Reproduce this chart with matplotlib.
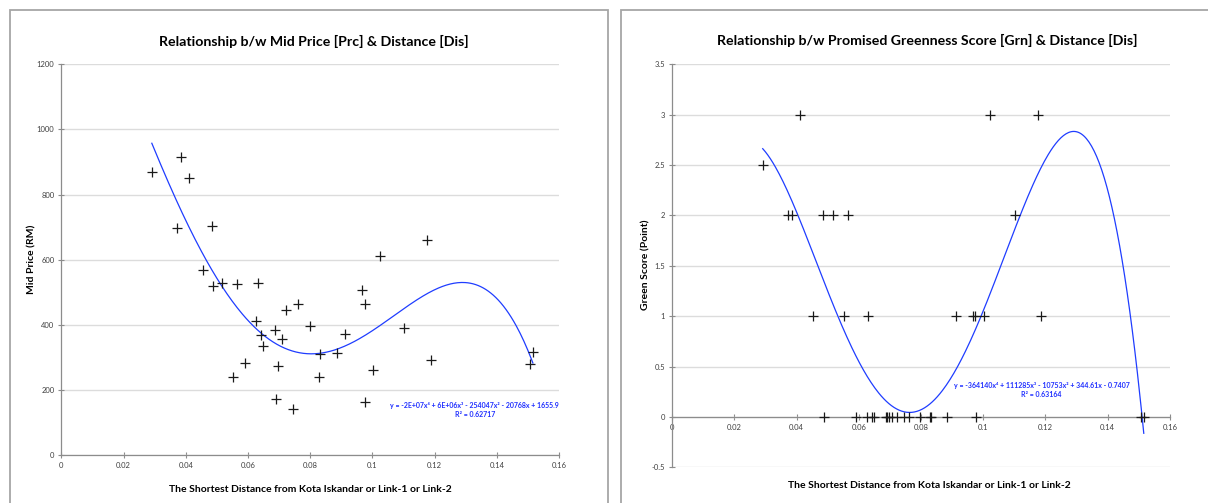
import numpy as np
import matplotlib
matplotlib.use("Agg")
import matplotlib.pyplot as plt
from matplotlib.patches import Rectangle

plt.rcParams['font.family'] = ['Lato', 'DejaVu Sans']

# shortest distance (same for both charts)
distance = [0.0291, 0.0371, 0.0386, 0.0410, 0.0454, 0.0486, 0.0488, 0.0516,
            0.0553, 0.0564, 0.0590, 0.0627, 0.0631, 0.0642, 0.0648, 0.0686,
            0.0689, 0.0698, 0.0708, 0.0723, 0.0744, 0.0762, 0.0798, 0.0830,
            0.0833, 0.0885, 0.0913, 0.0968, 0.0975, 0.0976, 0.1002, 0.1023,
            0.1101, 0.1176, 0.1187, 0.1508, 0.1516]

# mid price (RM)
mid_price = [870, 696, 914, 850, 567, 702, 518, 527,
             239, 524, 283, 412, 527, 368, 336, 383,
             173, 273, 355, 444, 141, 463, 395, 240,
             311, 312, 373, 507, 464, 162, 262, 610,
             389, 659, 291, 279, 315]

# promised greenness score
green_score = [2.5, 2, 2, 3, 1, 2, 0, 2,
               1, 2, 0, 0, 1, 0, 0, 0,
               0, 0, 0, 0, 0, 0, 0, 0,
               0, 0, 1, 1, 1, 0, 1, 3,
               2, 3, 1, 0, 0]

x_ticks = [0, 0.02, 0.04, 0.06, 0.08, 0.1, 0.12, 0.14, 0.16]
x_tick_labels = ["0", "0.02", "0.04", "0.06", "0.08", "0.1", "0.12", "0.14", "0.16"]
price_ticks = [0, 200, 400, 600, 800, 1000, 1200]
green_ticks = [-0.5, 0, 0.5, 1, 1.5, 2, 2.5, 3, 3.5]
green_tick_labels = ["-0.5", "0", "0.5", "1", "1.5", "2", "2.5", "3", "3.5"]

xlabel = "The Shortest Distance from Kota Iskandar or Link-1 or Link-2"
eq_price = "y = -2E+07x\u2074 + 6E+06x\u00b3 - 254047x\u00b2 - 20768x + 1655.9"
r2_price = "R\u00b2 = 0.62717"
eq_green = "y = -364140x\u2074 + 111285x\u00b3 - 10753x\u00b2 + 344.61x - 0.7407"
r2_green = "R\u00b2 = 0.63164"

W, H = 1208, 503
fig = plt.figure(figsize=(W / 100, H / 100), dpi=100)

# chart frames
for x0, x1 in [(10, 608), (621, 1230)]:
    fig.patches.append(Rectangle((x0 / W, -0.1), (x1 - x0) / W, 1.1 - 10 / H,
                                 transform=fig.transFigure, fill=False,
                                 edgecolor='#a6a6a6', lw=1.3, zorder=0))

axis_gray = '#8c8c8c'
grid_gray = '#dcdcdc'
line_blue = '#1f3dff'
eq_blue = '#2030ff'


def style_axes(ax):
    for s in ['top', 'right']:
        ax.spines[s].set_visible(False)
    for s in ['left', 'bottom']:
        ax.spines[s].set_color(axis_gray)
        ax.spines[s].set_linewidth(0.9)
    ax.yaxis.grid(True, color=grid_gray, lw=1.0)
    ax.set_axisbelow(True)
    ax.tick_params(axis='both', direction='inout', length=4, width=0.8,
                   color=axis_gray, labelsize=5.5, labelcolor='#404040', pad=3)


def trend(ax, x, y):
    coef = np.polyfit(x, y, 4)
    xs = np.linspace(min(x), max(x), 300)
    ax.plot(xs, np.polyval(coef, xs), color=line_blue, lw=0.9, zorder=2)


# left chart: mid price
ax1 = fig.add_axes([61.3 / W, 48 / H, (559 - 61.3) / W, (455 - 64.3) / H])
style_axes(ax1)
ax1.plot(distance, mid_price, '+', color='#1a1a1a', ms=7, mew=0.9, zorder=3)
trend(ax1, distance, mid_price)
ax1.set_xlim(0, 0.16)
ax1.set_ylim(0, 1200)
ax1.set_xticks(x_ticks)
ax1.set_xticklabels(x_tick_labels)
ax1.set_yticks(price_ticks)
ax1.set_ylabel("Mid Price (RM)", fontsize=7.5, fontweight='bold')
ax1.yaxis.set_label_coords(-24.5 / 497.7, 0.5)
ax1.set_xlabel(xlabel, fontsize=7.5, fontweight='bold', va='center')
ax1.xaxis.set_label_coords(0.5, -35 / 390.7)
ax1.text(0.1329, 151, eq_price, color=eq_blue,
         fontsize=5, fontweight='bold', ha='center', va='center')
ax1.text(0.1329, 124, r2_price, color=eq_blue,
         fontsize=5, fontweight='bold', ha='center', va='center')
fig.text(314 / W, 1 - 41 / H, "Relationship b/w Mid Price [Prc] & Distance [Dis]",
         fontsize=10.2, fontweight='bold', ha='center', va='center')

# right chart: green score
ax2 = fig.add_axes([672.2 / W, 35.7 / H, (1169.9 - 672.2) / W, (467.3 - 64.3) / H])
style_axes(ax2)
ax2.spines['bottom'].set_position(('data', 0))
ax2.plot(distance, green_score, '+', color='#1a1a1a', ms=7, mew=0.9, zorder=3)
trend(ax2, distance, green_score)
ax2.set_xlim(0, 0.16)
ax2.set_ylim(-0.5, 3.5)
ax2.set_xticks(x_ticks)
ax2.set_xticklabels(x_tick_labels)
ax2.set_yticks(green_ticks)
ax2.set_yticklabels(green_tick_labels)
ax2.set_ylabel("Green Score (Point)", fontsize=7.5, fontweight='bold')
ax2.yaxis.set_label_coords(-21.5 / 497.7, (467.3 - 265) / 403)
ax2.set_xlabel(xlabel, fontsize=7.5, fontweight='bold', va='center')
ax2.xaxis.set_label_coords((929.5 - 672.2) / 497.7, -(485.7 - 467.3) / 403)
ax2.text(0.1188, 0.31, eq_green, color=eq_blue,
         fontsize=5, fontweight='bold', ha='center', va='center')
ax2.text(0.1188, 0.221, r2_green, color=eq_blue,
         fontsize=5, fontweight='bold', ha='center', va='center')
fig.text(927.5 / W, 1 - 40 / H,
         "Relationship b/w Promised Greenness Score [Grn] & Distance [Dis]",
         fontsize=10.2, fontweight='bold', ha='center', va='center')

fig.savefig("out.png", dpi=100)
